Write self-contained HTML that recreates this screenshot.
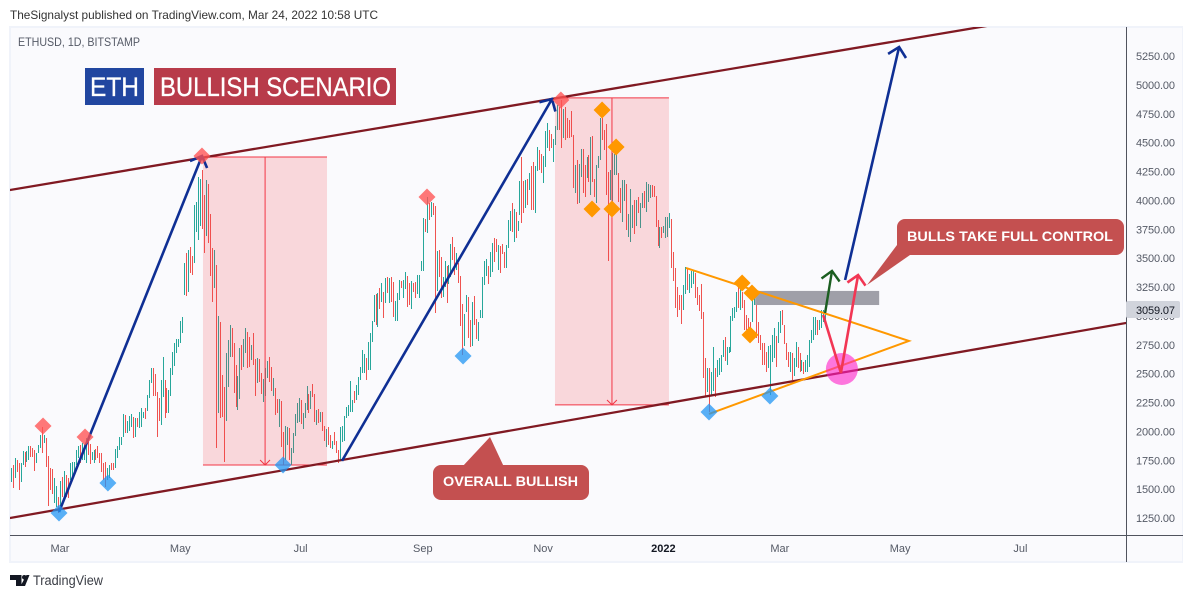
<!DOCTYPE html>
<html lang="en">
<head>
<meta charset="utf-8">
<title>ETHUSD bullish scenario</title>
<style>
html,body{margin:0;padding:0;background:#fff;width:1194px;height:598px;overflow:hidden}
svg{display:block;font-family:"Liberation Sans",sans-serif}
</style>
</head>
<body>
<svg id="chart" xmlns="http://www.w3.org/2000/svg" width="1194" height="598" viewBox="0 0 1194 598">
  <defs><clipPath id="pane-clip"><rect x="10" y="27" width="1116" height="508"/></clipPath></defs>
  <rect x="0" y="0" width="1194" height="598" fill="#ffffff"/>
  <text x="10" y="19" font-size="12" fill="#333333" textLength="368" lengthAdjust="spacingAndGlyphs">TheSignalyst published on TradingView.com, Mar 24, 2022 10:58 UTC</text>
  <rect x="9" y="26" width="1174" height="537" fill="#f0f3fa"/>
  <rect x="11" y="28" width="1171" height="533" fill="#fafafd"/>
  <g id="pane" clip-path="url(#pane-clip)"></g>
  <line x1="10" y1="535.5" x2="1183" y2="535.5" stroke="#50535e" stroke-width="1"/>
  <line x1="1126.5" y1="27" x2="1126.5" y2="562" stroke="#50535e" stroke-width="1"/>
  <g id="price-axis"></g>
  <g id="time-axis"></g>
  <rect x="1126" y="301" width="54" height="17" rx="2" fill="#d1d4dc"/>
  <text x="1136" y="314" font-size="11" fill="#131722" textLength="39">3059.07</text>
  <text x="18" y="46" font-size="12" fill="#555a66" textLength="122" lengthAdjust="spacingAndGlyphs">ETHUSD, 1D, BITSTAMP</text>
  <rect x="85" y="68" width="59" height="37" fill="#2146a0"/>
  <text x="90" y="96" font-size="27" fill="#ffffff" stroke="#ffffff" stroke-width="0.3" textLength="49" lengthAdjust="spacingAndGlyphs">ETH</text>
  <rect x="154" y="68" width="242" height="37" fill="#b83b4a"/>
  <text x="160" y="96" font-size="27" fill="#ffffff" stroke="#ffffff" stroke-width="0.3" textLength="231" lengthAdjust="spacingAndGlyphs">BULLISH SCENARIO</text>
  <g>
    <polygon points="490,437 462,467 504,467" fill="#c45050"/>
    <rect x="433" y="465" width="156" height="35" rx="8" fill="#c45050"/>
    <text x="443" y="486" font-size="14" font-weight="bold" fill="#ffffff" textLength="135" lengthAdjust="spacingAndGlyphs">OVERALL BULLISH</text>
  </g>
  <g>
    <polygon points="867,285 897,245 910,255" fill="#c45050"/>
    <rect x="897" y="219" width="227" height="36" rx="8" fill="#c45050"/>
    <text x="907" y="241" font-size="14" font-weight="bold" fill="#ffffff" textLength="206" lengthAdjust="spacingAndGlyphs">BULLS TAKE FULL CONTROL</text>
  </g>
  <g>
    <polygon points="10,575 21.5,575 21.5,586 16,586 16,580 10,580" fill="#131722"/>
    <circle cx="24.3" cy="577.3" r="2.3" fill="#131722"/>
    <polygon points="26.5,575 29.5,575 25,586 20.5,586" fill="#131722"/>
    <text x="33" y="585" font-size="13.5" fill="#3a3d45" textLength="70" lengthAdjust="spacingAndGlyphs">TradingView</text>
  </g>
</svg>
<script>
// Daily bars from Feb 4 2021, one entry per day.
const highs = [
1683,1709,1769,1752,1726,1726,1830,1822,1830,1873,
1873,1856,1839,1813,1882,1968,2038,1968,1942,1787,
1683,1675,1596,1527,1432,1571,1605,1657,1622,1596,
1726,1735,1735,1839,1873,1882,1899,1891,1942,1951,
1891,1822,1839,1847,1873,1813,1813,1726,1735,1683,
1709,1726,1726,1847,1873,1951,1951,2151,2142,2090,
2133,2151,2125,2116,2116,2168,2203,2168,2203,2315,
2445,2549,2549,2497,2341,2289,2445,2644,2445,2376,
2358,2549,2687,2765,2800,2800,2956,2990,3458,3544,
3570,3596,3518,3960,3986,4203,4185,4263,4047,4177,
4142,3882,3588,3570,3441,2999,2947,2488,2384,2679,
2791,2921,2895,2765,2575,2480,2722,2748,2800,2895,
2860,2817,2748,2852,2627,2635,2627,2506,2454,2549,
2609,2644,2557,2462,2376,2280,2280,2263,1995,2047,
2038,2029,1856,1986,2151,2246,2289,2272,2160,2246,
2393,2324,2350,2410,2324,2185,2194,2168,2168,2047,
2021,2038,1968,1917,1995,1917,1839,2038,2047,2133,
2211,2228,2436,2272,2350,2402,2471,2557,2705,2670,
2635,2774,2852,2956,3181,3190,3198,3241,3285,3207,
3328,3337,3328,3337,3293,3129,3198,3311,3302,3311,
3380,3345,3285,3302,3285,3293,3354,3354,3475,3848,
3839,4029,3977,3986,3977,3951,3561,3570,3510,3336,
3475,3432,3441,3622,3683,3596,3544,3458,3345,3103,
3016,3181,3163,2964,3120,3172,2973,2947,3051,3336,
3475,3492,3432,3553,3631,3674,3666,3613,3605,3622,
3553,3613,3830,3908,3977,3925,3899,3821,4168,4376,
4168,4177,4185,4237,4298,4332,4298,4462,4436,4402,
4384,4601,4670,4610,4575,4532,4644,4826,4809,4869,
4791,4809,4714,4696,4774,4566,4306,4350,4315,4445,
4445,4306,4376,4393,4549,4558,4185,4306,4384,4714,
4714,4610,4662,4246,4263,4410,4402,4402,4237,4107,
4177,4177,4142,3882,4099,3960,4003,4003,4029,3977,
4064,4081,4159,4142,4133,4133,4125,4038,3830,3770,
3770,3778,3856,3856,3891,3839,3553,3415,3250,3181,
3181,3268,3423,3415,3363,3389,3397,3371,3250,3181,
3276,3033,2635,2549,2549,2514,2730,2549,2618,2635,
2661,2791,2817,2730,2730,2999,3068,3077,3207,3250,
3241,3207,3138,3008,2982,2947,3155,3155,3163,2947,
2834,2765,2765,2687,2739,2748,2834,2895,2826,2947,
3042,3051,2921,2765,2687,2687,2679,2635,2774,2730,
2679,2618,2601,2618,2661,2791,2878,2990,2990,2964,
2964,3051,3051,3059];
const lows = [
1562,1510,1596,1649,1493,1562,1709,1692,1735,1752,
1778,1778,1657,1726,1813,1856,1813,1899,1692,1354,
1493,1458,1380,1345,1293,1345,1432,1423,1432,1423,
1579,1605,1649,1709,1769,1726,1752,1752,1726,1796,
1718,1752,1726,1752,1769,1726,1649,1579,1519,1579,
1596,1666,1666,1683,1769,1839,1882,1951,1986,1986,
2003,2038,1942,1951,2038,2029,2038,2116,2108,2177,
2289,2419,2306,2306,1951,2090,2055,2298,2116,2160,
2160,2306,2488,2566,2679,2730,2765,2852,3181,3172,
3207,3371,3354,3458,3727,3657,3778,3752,3544,3692,
3631,3345,3120,3241,1856,2160,2116,2125,1735,2090,
2384,2644,2644,2332,2211,2185,2280,2531,2557,2679,
2549,2557,2618,2575,2306,2419,2428,2324,2254,2306,
2462,2428,2350,2306,2142,2160,2038,1865,1709,1752,
1882,1752,1709,1813,1960,2073,2081,2064,2021,2116,
2185,2160,2194,2298,2081,2055,2073,2081,2003,1917,
1865,1882,1856,1847,1882,1813,1726,1752,1908,1917,
2116,2133,2168,2168,2246,2272,2315,2445,2506,2506,
2445,2531,2531,2774,2947,2921,2904,3059,3120,2982,
3111,3198,3111,3120,2990,2956,2956,3138,3241,3155,
3233,3077,3094,3059,3207,3155,3190,3155,3388,3388,
3726,3717,3830,3856,3874,3025,3215,3336,3155,3163,
3250,3111,3276,3336,3484,3354,3397,3285,2912,2661,
2739,3033,2808,2730,2739,2921,2800,2782,2982,2982,
3267,3345,3276,3336,3380,3466,3553,3397,3371,3535,
3415,3415,3588,3735,3726,3640,3674,3735,3874,3804,
3891,3934,3960,4090,3917,3917,3891,4254,4263,4237,
4151,4289,4454,4428,4454,4332,4480,4610,4610,4454,
4540,4523,4540,4540,4549,4107,4064,3969,3977,4203,
4064,4029,4194,4159,4047,4159,4029,3977,4281,4350,
4523,4436,4047,3475,4003,3960,4220,4220,3986,3891,
3813,3995,3744,3683,3640,3761,3709,3778,3891,3761,
3934,3934,3899,3986,4021,4029,4029,3770,3605,3588,
3674,3718,3674,3683,3761,3414,3302,3068,2990,3051,
2930,3051,3189,3224,3198,3241,3276,3155,3094,3042,
2973,2462,2298,2341,2168,2315,2350,2298,2471,2488,
2514,2644,2609,2575,2679,2687,2956,2982,3033,3068,
3051,3068,2878,2878,2860,2834,2947,3094,2808,2765,
2705,2575,2575,2514,2549,2315,2600,2635,2557,2765,
2852,2921,2757,2618,2557,2514,2445,2480,2557,2549,
2514,2523,2497,2514,2514,2557,2765,2791,2834,2834,
2878,2895,2947,2947];
const upDays = [
1,0,1,0,0,1,1,0,1,1,
0,0,0,1,1,1,0,1,0,0,
0,0,1,1,0,1,0,1,0,0,
1,1,1,1,1,0,1,1,1,0,
0,1,1,0,0,0,0,0,0,1,
1,0,0,1,1,1,1,1,0,1,
1,1,0,1,0,1,1,1,0,1,
1,1,0,0,0,0,1,1,0,0,
1,1,1,1,1,1,1,1,1,0,
1,0,0,1,1,1,1,0,0,1,
0,0,0,1,0,1,0,0,0,1,
1,1,0,0,0,1,1,0,1,1,
0,0,1,0,0,1,0,0,1,1,
1,0,0,1,0,0,1,0,0,1,
1,0,1,1,1,1,1,0,1,1,
1,0,1,0,0,1,0,1,0,0,
1,0,0,1,0,0,0,1,1,1,
1,1,1,1,0,1,1,1,1,1,
0,1,1,1,1,0,1,0,1,0,
1,0,1,0,0,1,1,1,0,1,
1,0,0,1,0,0,1,1,1,1,
0,1,0,1,0,0,1,0,0,1,
1,0,1,1,0,0,1,0,0,0,
1,1,0,0,1,0,0,1,1,1,
1,1,0,1,1,0,0,1,0,0,
0,1,1,1,0,1,0,1,1,0,
0,1,0,1,0,0,1,1,0,0,
1,1,1,0,0,1,1,1,0,0,
1,0,0,0,0,0,1,0,1,1,
0,0,1,0,1,0,0,1,1,1,
0,0,0,0,1,1,1,1,0,0,
1,1,0,1,1,1,0,1,0,1,
1,0,1,1,1,0,0,0,0,1,
0,1,1,1,1,0,0,0,0,0,
0,1,1,0,1,1,1,0,0,0,
0,0,0,1,0,1,1,0,1,1,
1,1,0,1,1,1,1,1,1,0,
1,0,0,0,0,0,1,1,0,0,
0,0,0,0,1,1,1,1,0,1,
1,0,0,0,0,1,0,1,1,0,
0,1,0,1,1,1,1,1,1,0,
1,1,1,1];

// Axis ticks.
const priceTicks = [1250,1500,1750,2000,2250,2500,2750,3000,3250,3500,3750,4000,4250,4500,4750,5000,5250];
const timeTickDays = [25,86,147,209,270,331,390,451,512];
const timeTickLabels = ["Mar","May","Jul","Sep","Nov","2022","Mar","May","Jul"];

// Drawings, as [day index, price].
const upperChannel = [[-0.4,4090],[501.7,5530]];
const lowerChannel = [[-0.4,1250],[565.6,2938]];
const impulseOne = [[24.5,1302],[97,4384]];
const impulseTwo = [[168,1744],[274.5,4878]];
const impulseThree = [[423.1,3311],[450.5,5328]];
const triangle = [[342.4,3415],[455.5,2783],[354.1,2151]];
const breakoutArrow = [[413,3025],[416.5,3389]];
const scenarioPath = [[412,3008],[421,2506],[429.7,3354]];
const targetCircle = [421.5,2540];
const resistanceZone = [[377.5,3216],[440.4,3094]];
const dropZones = [[[97.5,4376],[160.4,1709]],[[276,4887],[333.8,2229]]];
const dropMeasureDays = [129,304.9];
const redDiamonds = [[16.4,2047],[37.7,1951],[97,4384],[211.1,4029],[279,4869]];
const blueDiamonds = [[24.5,1293],[49.3,1553],[138.1,1709],[229.4,2653],[354.1,2168],[385,2306]];
const orangeDiamonds = [[299.9,4783],[307,4462],[294.8,3925],[304.9,3925],[370.9,3285],[375.9,3198],[374.9,2835]];

const X0 = 10.7, PX_PER_DAY = 1.972, Y0 = 518, P0 = 1250, PX_PER_USD = 0.1155;
function xScale(day){ return X0 + day * PX_PER_DAY; }
function yScale(price){ return Y0 - (price - P0) * PX_PER_USD; }
function px(pt){ return [xScale(pt[0]), yScale(pt[1])]; }
function ptsAttr(list){ return list.map(function(p){ var q = px(p); return q[0].toFixed(1) + ',' + q[1].toFixed(1); }).join(' '); }

const NS = 'http://www.w3.org/2000/svg';
const pane = document.getElementById('pane');
const priceAxis = document.getElementById('price-axis');
const timeAxis = document.getElementById('time-axis');
function mk(tag, attrs, parent){
  const n = document.createElementNS(NS, tag);
  for (const k in attrs) n.setAttribute(k, attrs[k]);
  parent.appendChild(n);
  return n;
}
function barbs(fromPt, toPt, len){
  const a = px(fromPt), b = px(toPt);
  const ang = Math.atan2(a[1] - b[1], a[0] - b[0]);
  const c1 = [b[0] + len * Math.cos(ang + Math.PI / 4), b[1] + len * Math.sin(ang + Math.PI / 4)];
  const c2 = [b[0] + len * Math.cos(ang - Math.PI / 4), b[1] + len * Math.sin(ang - Math.PI / 4)];
  return c1[0].toFixed(1) + ',' + c1[1].toFixed(1) + ' ' + b[0].toFixed(1) + ',' + b[1].toFixed(1) + ' ' + c2[0].toFixed(1) + ',' + c2[1].toFixed(1);
}
function diamondPts(pt){
  const q = px(pt), r = 8.5;
  return q[0] + ',' + (q[1] - r) + ' ' + (q[0] + r) + ',' + q[1] + ' ' + q[0] + ',' + (q[1] + r) + ' ' + (q[0] - r) + ',' + q[1];
}

// Price bars.
highs.forEach(function(h, i){
  const top = yScale(h), bottom = yScale(lows[i]);
  const el = mk('rect', {x: Math.round(xScale(i)), y: top.toFixed(1), width: 1, height: (bottom - top).toFixed(1), fill: upDays[i] ? '#26a69a' : '#ef5350', 'shape-rendering': 'crispEdges'}, pane);
  
  
});

// Drop zones with their measuring arrows.
dropZones.forEach(function(z, i){
  const a = px(z[0]), b = px(z[1]);
  const zone = mk('rect', {x: a[0], y: a[1], width: b[0] - a[0], height: b[1] - a[1], fill: 'rgba(242,54,69,0.18)'}, pane);
  
  
  const topEdge = mk('line', {x1: a[0], y1: a[1], x2: b[0], y2: a[1], stroke: '#f23645', 'stroke-width': 1}, pane);
  
  
  const bottomEdge = mk('line', {x1: a[0], y1: b[1], x2: b[0], y2: b[1], stroke: '#f23645', 'stroke-width': 1}, pane);
  
  
  const day = dropMeasureDays[i];
  const shaft = mk('line', {x1: xScale(day), y1: a[1], x2: xScale(day), y2: b[1], stroke: '#f23645', 'stroke-width': 1}, pane);
  
  
  const head = mk('polyline', {points: barbs([day, z[0][1]], [day, z[1][1]], 7), fill: 'none', stroke: '#f23645', 'stroke-width': 1}, pane);
  
  
});

// Resistance zone.
(function(){
  const a = px(resistanceZone[0]), b = px(resistanceZone[1]);
  const el = mk('rect', {x: a[0], y: a[1], width: b[0] - a[0], height: b[1] - a[1], fill: '#9f9fa8'}, pane);
  
  
})();

// Channel lines.
const upperLine = mk('polyline', {points: ptsAttr(upperChannel), fill: 'none', stroke: '#801922', 'stroke-width': 2.3}, pane);


const lowerLine = mk('polyline', {points: ptsAttr(lowerChannel), fill: 'none', stroke: '#801922', 'stroke-width': 2.3}, pane);



// Triangle.
const tri = mk('polyline', {points: ptsAttr(triangle), fill: 'none', stroke: '#ff9800', 'stroke-width': 2}, pane);



// Target circle.
const circlePx = px(targetCircle);
const circle = mk('circle', {cx: circlePx[0], cy: circlePx[1], r: 16, fill: 'rgba(255,30,200,0.6)'}, pane);



// Arrows.
[impulseOne, impulseTwo, impulseThree].forEach(function(seg){
  const shaft = mk('polyline', {points: ptsAttr(seg), fill: 'none', stroke: '#0f2f94', 'stroke-width': 2.6}, pane);
  
  
  const head = mk('polyline', {points: barbs(seg[0], seg[1], 13), fill: 'none', stroke: '#0f2f94', 'stroke-width': 2.6}, pane);
  
  
});
const greenShaft = mk('polyline', {points: ptsAttr(breakoutArrow), fill: 'none', stroke: '#1b5e20', 'stroke-width': 2.4}, pane);


const greenHead = mk('polyline', {points: barbs(breakoutArrow[0], breakoutArrow[1], 13), fill: 'none', stroke: '#1b5e20', 'stroke-width': 2.4}, pane);


const redPath = mk('polyline', {points: ptsAttr(scenarioPath), fill: 'none', stroke: '#f23654', 'stroke-width': 2.6}, pane);


const redHead = mk('polyline', {points: barbs(scenarioPath[1], scenarioPath[2], 13), fill: 'none', stroke: '#f23654', 'stroke-width': 2.6}, pane);



// Swing markers.
redDiamonds.forEach(function(pt){
  const el = mk('polygon', {points: diamondPts(pt), fill: 'rgba(255,82,82,0.78)'}, pane);
  
  
});
blueDiamonds.forEach(function(pt){
  const el = mk('polygon', {points: diamondPts(pt), fill: 'rgba(33,150,243,0.75)'}, pane);
  
  
});
orangeDiamonds.forEach(function(pt){
  const el = mk('polygon', {points: diamondPts(pt), fill: '#ff9800'}, pane);
  
  
});

// Axes.
priceTicks.forEach(function(p){
  const el = mk('text', {x: 1136, y: (yScale(p) + 4).toFixed(1), 'font-size': 11, fill: '#555a66', textLength: 39}, priceAxis);
  
  
  el.textContent = p.toFixed(2);
});
timeTickDays.forEach(function(d, i){
  const isYear = timeTickLabels[i] === '2022';
  const el = mk('text', {x: xScale(d).toFixed(1), y: 552, 'font-size': 11, 'text-anchor': 'middle', 'font-weight': isYear ? 'bold' : 'normal', fill: isYear ? '#131722' : '#555a66'}, timeAxis);
  
  
  el.textContent = timeTickLabels[i];
});
</script>
</body>
</html>
